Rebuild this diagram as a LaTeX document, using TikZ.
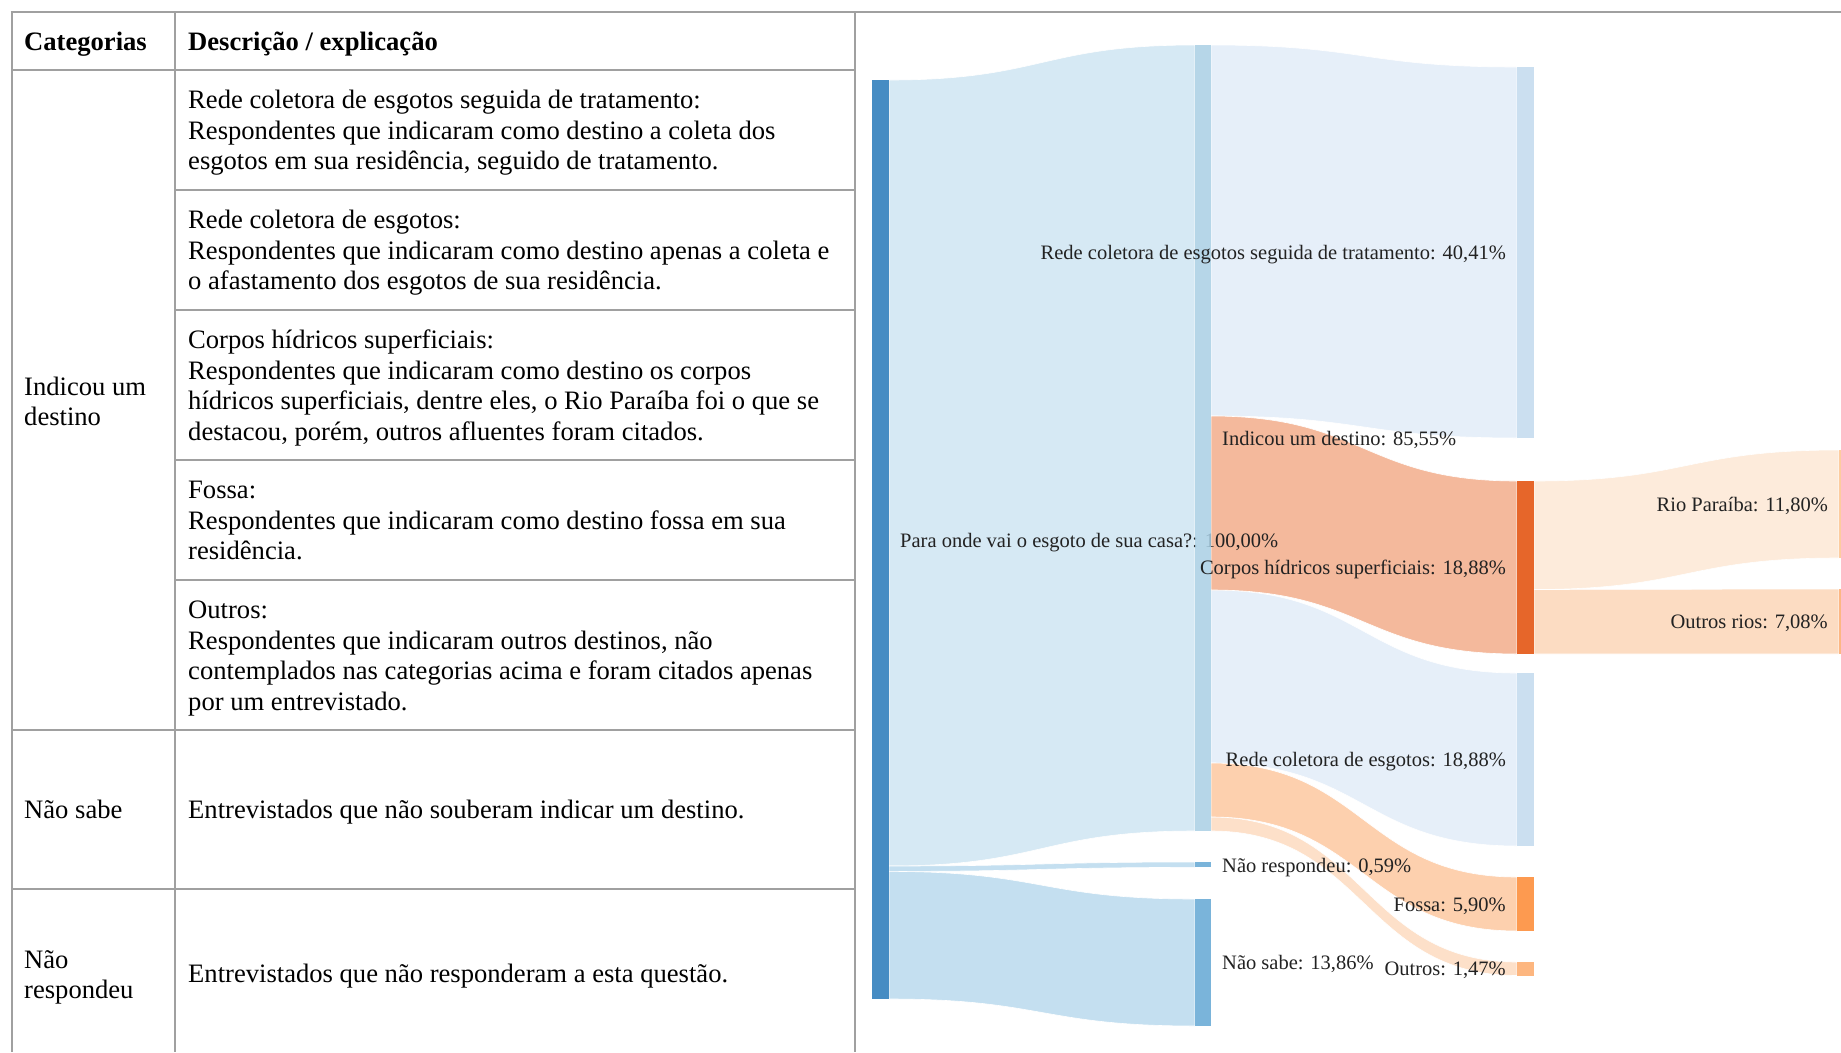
\documentclass[tikz,border=0pt]{standalone}
\usepackage{fontspec}
\setmainfont{Liberation Serif}
\definecolor{tabgray}{HTML}{A0A0A0}
\definecolor{lblgray}{HTML}{222222}
\definecolor{rootbar}{HTML}{468CC3}
\definecolor{rootflow}{HTML}{D6E9F4}
\definecolor{lowflow}{HTML}{C4DFF0}
\definecolor{midbar}{HTML}{A9CFE4}
\definecolor{sabebar}{HTML}{7AB4DA}
\definecolor{redeflow}{HTML}{E6EFF9}
\definecolor{redebar}{HTML}{CBDFF0}
\definecolor{corpflow}{HTML}{F4B99C}
\definecolor{corpbar}{HTML}{E6662A}
\definecolor{fosflow}{HTML}{FDD0AE}
\definecolor{fosbar}{HTML}{FD9A50}
\definecolor{outflow}{HTML}{FDE0C9}
\definecolor{outbar}{HTML}{FDB67F}
\definecolor{rioflow}{HTML}{FDEBDB}
\definecolor{riosflow}{HTML}{FCDCC2}
\definecolor{riobar}{HTML}{FDCC9F}
\definecolor{riosbar}{HTML}{FDB783}
\newcommand{\sankeylink}[7]{\fill[#7,draw=white,line width=0.6pt] (#1,#2) .. controls ({(#1+#4)/2},#2) and ({(#1+#4)/2},#5) .. (#4,#5) -- (#4,#6) .. controls ({(#1+#4)/2},#6) and ({(#1+#4)/2},#3) .. (#1,#3) -- cycle;}
\newcommand{\celltext}[1]{\vtop{\halign{##\hfil\cr#1\crcr}}}
\begin{document}
\begin{tikzpicture}[x=1pt,y=-1pt,
  grid/.style={draw=tabgray,line width=2pt},
  tabtxt/.style={anchor=base west,inner sep=0pt,font=\fontsize{26.6}{30.5}\selectfont},
  tabhead/.style={tabtxt,font=\fontsize{26.6}{30.5}\selectfont\bfseries},
  lblw/.style={anchor=base west,inner sep=0pt,font=\fontsize{20.5}{24}\selectfont,text=lblgray},
  lble/.style={lblw,anchor=base east}]
\useasboundingbox (0,0) rectangle (1841,1052);

\draw[grid] (10.5,11.5) -- (1841,11.5);
\draw[grid] (11.5,11.5) -- (11.5,1052);
\draw[grid] (175,11.5) -- (175,1052);
\draw[grid] (855,11.5) -- (855,1052);
\draw[grid] (11.5,70) -- (855,70);
\foreach \yrow in {190,310,460,580}
  \draw[grid] (175,\yrow) -- (855,\yrow);
\draw[grid] (11.5,730) -- (855,730);
\draw[grid] (11.5,889) -- (855,889);

\node[tabhead] (hcat) at (24,50) {Categorias};
\node[tabhead] (hdesc) at (188,50) {Descrição / explicação};
\node[tabtxt] (cind) at (24,395) {\celltext{Indicou um\cr destino}};
\node[tabtxt] (csabe) at (24,818.3) {Não sabe};
\node[tabtxt] (cresp) at (24,968) {\celltext{Não\cr respondeu}};
\node[tabtxt] (dtrat) at (188,108.5) {\celltext{Rede coletora de esgotos seguida de tratamento:\cr
  Respondentes que indicaram como destino a coleta dos\cr
  esgotos em sua residência, seguido de tratamento.}};
\node[tabtxt] (drede) at (188,228.5) {\celltext{Rede coletora de esgotos:\cr
  Respondentes que indicaram como destino apenas a coleta e\cr
  o afastamento dos esgotos de sua residência.}};
\node[tabtxt] (dcorp) at (188,348.5) {\celltext{Corpos hídricos superficiais:\cr
  Respondentes que indicaram como destino os corpos\cr
  hídricos superficiais, dentre eles, o Rio Paraíba foi o que se\cr
  destacou, porém, outros afluentes foram citados.}};
\node[tabtxt] (dfos) at (188,498.5) {\celltext{Fossa:\cr
  Respondentes que indicaram como destino fossa em sua\cr
  residência.}};
\node[tabtxt] (dout) at (188,618.5) {\celltext{Outros:\cr
  Respondentes que indicaram outros destinos, não\cr
  contemplados nas categorias acima e foram citados apenas\cr
  por um entrevistado.}};
\node[tabtxt] (dsabe) at (188,818.3) {Entrevistados que não souberam indicar um destino.};
\node[tabtxt] (dresp) at (188,982) {Entrevistados que não responderam a esta questão.};

\sankeylink{889}{80}{866}{1195}{45}{831}{rootflow}
\sankeylink{889}{866}{871.4}{1195}{862}{867.4}{lowflow}
\sankeylink{889}{871.4}{999}{1195}{899}{1026}{lowflow}
\sankeylink{1211}{45}{416}{1517}{67}{438}{redeflow}
\sankeylink{1211}{590}{763}{1517}{673}{846}{redeflow}
\sankeylink{1211}{416}{590}{1517}{481}{654}{corpflow}
\sankeylink{1211}{817}{831}{1517}{962}{975.5}{outflow}
\sankeylink{1211}{763}{817}{1517}{877}{931}{fosflow}
\sankeylink{1534}{481}{589.5}{1839}{450}{558}{rioflow}
\sankeylink{1534}{589.5}{654}{1839}{589}{654}{riosflow}

\fill[rootbar] (872,80) rectangle (889,999);
\node[lblw] (lroot) at (900,547) {Para onde vai o esgoto de sua casa?: 100,00\%};
\fill[midbar,opacity=0.85] (1195,45) rectangle (1211,831);
\fill[sabebar] (1195,862) rectangle (1211,867.4);
\fill[sabebar] (1195,899) rectangle (1211,1026);
\fill[redebar] (1517,67) rectangle (1534,438);
\fill[corpbar] (1517,481) rectangle (1534,654);
\fill[redebar] (1517,673) rectangle (1534,846);
\fill[fosbar] (1517,877) rectangle (1534,931);
\fill[outbar] (1517,962) rectangle (1534,975.5);
\fill[riobar] (1839,450) rectangle (1841,558);
\fill[riosbar] (1839,589) rectangle (1841,654);

\node[lble] (ltrat) at (1506,259.5) {Rede coletora de esgotos seguida de tratamento: 40,41\%};
\node[lblw] (lind) at (1222,445) {Indicou um destino: 85,55\%};
\node[lble] (lcorp) at (1506,574.5) {Corpos hídricos superficiais: 18,88\%};
\node[lble] (lrede) at (1506,766.5) {Rede coletora de esgotos: 18,88\%};
\node[lblw] (lresp) at (1222,872) {Não respondeu: 0,59\%};
\node[lble] (lfos) at (1506,911) {Fossa: 5,90\%};
\node[lblw] (lsabe) at (1222,969.5) {Não sabe: 13,86\%};
\node[lble] (lout) at (1506,975.5) {Outros: 1,47\%};
\node[lble] (lrio) at (1828,511) {Rio Paraíba: 11,80\%};
\node[lble] (lrios) at (1828,628.5) {Outros rios: 7,08\%};
\end{tikzpicture}
\end{document}
